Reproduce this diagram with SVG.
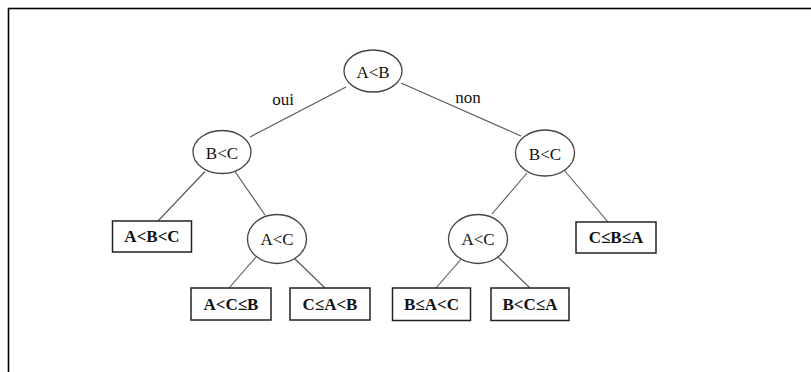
<svg xmlns="http://www.w3.org/2000/svg" width="811" height="372" viewBox="0 0 811 372">
  <style>
    .frame { fill: none; stroke: #000; stroke-width: 1.6; }
    .edge { stroke: #555; stroke-width: 1.1; fill: none; }
    .test { fill: #fff; stroke: #444; stroke-width: 1.3; }
    .leaf { fill: #fff; stroke: #222; stroke-width: 1.5; }
    .t { font-family: "Liberation Serif", "Times New Roman", serif; font-size: 17px; fill: #111; text-anchor: middle; }
    .b { font-weight: bold; }
  </style>
  <rect width="811" height="372" fill="#fff"/>
  <rect class="frame" x="8.5" y="8.5" width="810" height="370"/>

  <g id="connectors">
    <line class="edge" x1="346" y1="87" x2="250" y2="137"/>
    <line class="edge" x1="401" y1="83" x2="521" y2="136"/>
    <line class="edge" x1="205" y1="171.5" x2="158" y2="221"/>
    <line class="edge" x1="235" y1="171.5" x2="265" y2="215"/>
    <line class="edge" x1="527" y1="173" x2="492" y2="214"/>
    <line class="edge" x1="564" y1="170" x2="608" y2="222"/>
    <line class="edge" x1="256" y1="257" x2="229" y2="288"/>
    <line class="edge" x1="293" y1="257" x2="325" y2="288"/>
    <line class="edge" x1="463" y1="257" x2="436" y2="288"/>
    <line class="edge" x1="497" y1="256" x2="530" y2="288"/>
    <text class="t" x="283" y="105">oui</text>
    <text class="t" x="468" y="103">non</text>
  </g>

  <g id="n-AltB">
    <ellipse class="test" cx="373" cy="71" rx="29" ry="21"/>
    <text class="t" x="373" y="78">A&lt;B</text>
  </g>
  <g id="n-BltC-left">
    <ellipse class="test" cx="222" cy="152" rx="29" ry="21.5"/>
    <text class="t" x="222" y="159">B&lt;C</text>
  </g>
  <g id="n-BltC-right">
    <ellipse class="test" cx="545" cy="153" rx="29.5" ry="23"/>
    <text class="t" x="545" y="160">B&lt;C</text>
  </g>
  <g id="n-AltC-left">
    <ellipse class="test" cx="277" cy="239" rx="29.5" ry="24.5"/>
    <text class="t" x="277" y="245">A&lt;C</text>
  </g>
  <g id="n-AltC-right">
    <ellipse class="test" cx="478" cy="239" rx="29.5" ry="24.5"/>
    <text class="t" x="478" y="245">A&lt;C</text>
  </g>

  <g id="l-AltBltC">
    <rect class="leaf" x="112.5" y="221" width="79" height="31"/>
    <text class="t b" x="152" y="242">A&lt;B&lt;C</text>
  </g>
  <g id="l-CleBleA">
    <rect class="leaf" x="576" y="222" width="80" height="31"/>
    <text class="t b" x="616" y="243">C≤B≤A</text>
  </g>
  <g id="l-AltCleB">
    <rect class="leaf" x="191" y="288" width="80" height="32"/>
    <text class="t b" x="231" y="310">A&lt;C≤B</text>
  </g>
  <g id="l-CleAltB">
    <rect class="leaf" x="290" y="288" width="80" height="32"/>
    <text class="t b" x="330" y="310">C≤A&lt;B</text>
  </g>
  <g id="l-BleAltC">
    <rect class="leaf" x="392.5" y="288" width="78" height="32.5"/>
    <text class="t b" x="431.5" y="310">B≤A&lt;C</text>
  </g>
  <g id="l-BltCleA">
    <rect class="leaf" x="491" y="288" width="78" height="32.5"/>
    <text class="t b" x="530" y="310">B&lt;C≤A</text>
  </g>
</svg>
